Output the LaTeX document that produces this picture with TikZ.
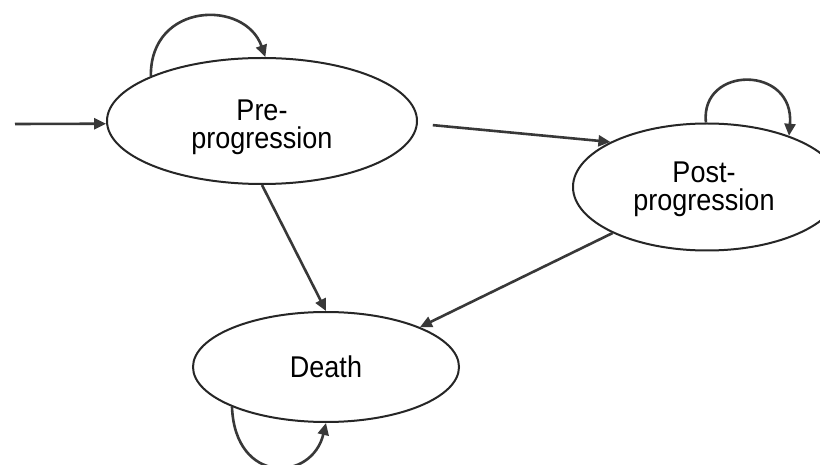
\documentclass[tikz,border=0pt]{standalone}
\usepackage{fontspec}
\setmainfont{Liberation Sans}[FakeStretch=0.9]
\usetikzlibrary{shapes.geometric,arrows.meta}
\begin{document}
\begin{tikzpicture}[x=1pt,y=-1pt,
  state/.style={ellipse,draw=black!85,line width=2pt,fill=white,inner sep=0pt,align=center,
    font=\fontsize{30}{28}\selectfont},
  txt/.style={align=center,font=\fontsize{30}{28}\selectfont,inner sep=0pt},
  arr/.style={draw=black!78,line width=2.6pt,-{Triangle[length=12pt,width=11pt]}}]
\useasboundingbox (0,0) rectangle (820,465);
\clip (0,0) rectangle (820,465);
\fill[white] (0,0) rectangle (820,465);
\node[state,minimum width=310pt,minimum height=126pt,
  label={[txt,yshift=-6pt]center:Pre-\\progression}] (pre) at (262,121) {};
\node[state,minimum width=268pt,minimum height=127pt,
  label={[txt,yshift=-2pt,xshift=-3pt]center:Post-\\progression}] (post) at (707,187) {};
\node[state,minimum width=266pt,minimum height=110pt] (death) at (326,367) {Death};
\coordinate (start) at (15,124);
\draw[arr] (start) -- (pre.181);
\draw[arr] (pre.158) .. controls (150,2) and (245,-1) .. (pre.87);
\draw[arr,shorten <=15pt] (pre.-1) -- (post.155);
\draw[arr] (pre.south) -- (death.north);
\draw[arr] (post.206) -- (death.23);
\draw[arr] (post.91) .. controls (700,65) and (795,65) .. (post.32);
\draw[arr] (death.203) .. controls (235,485) and (312,482) .. (death.south);
\end{tikzpicture}
\end{document}
